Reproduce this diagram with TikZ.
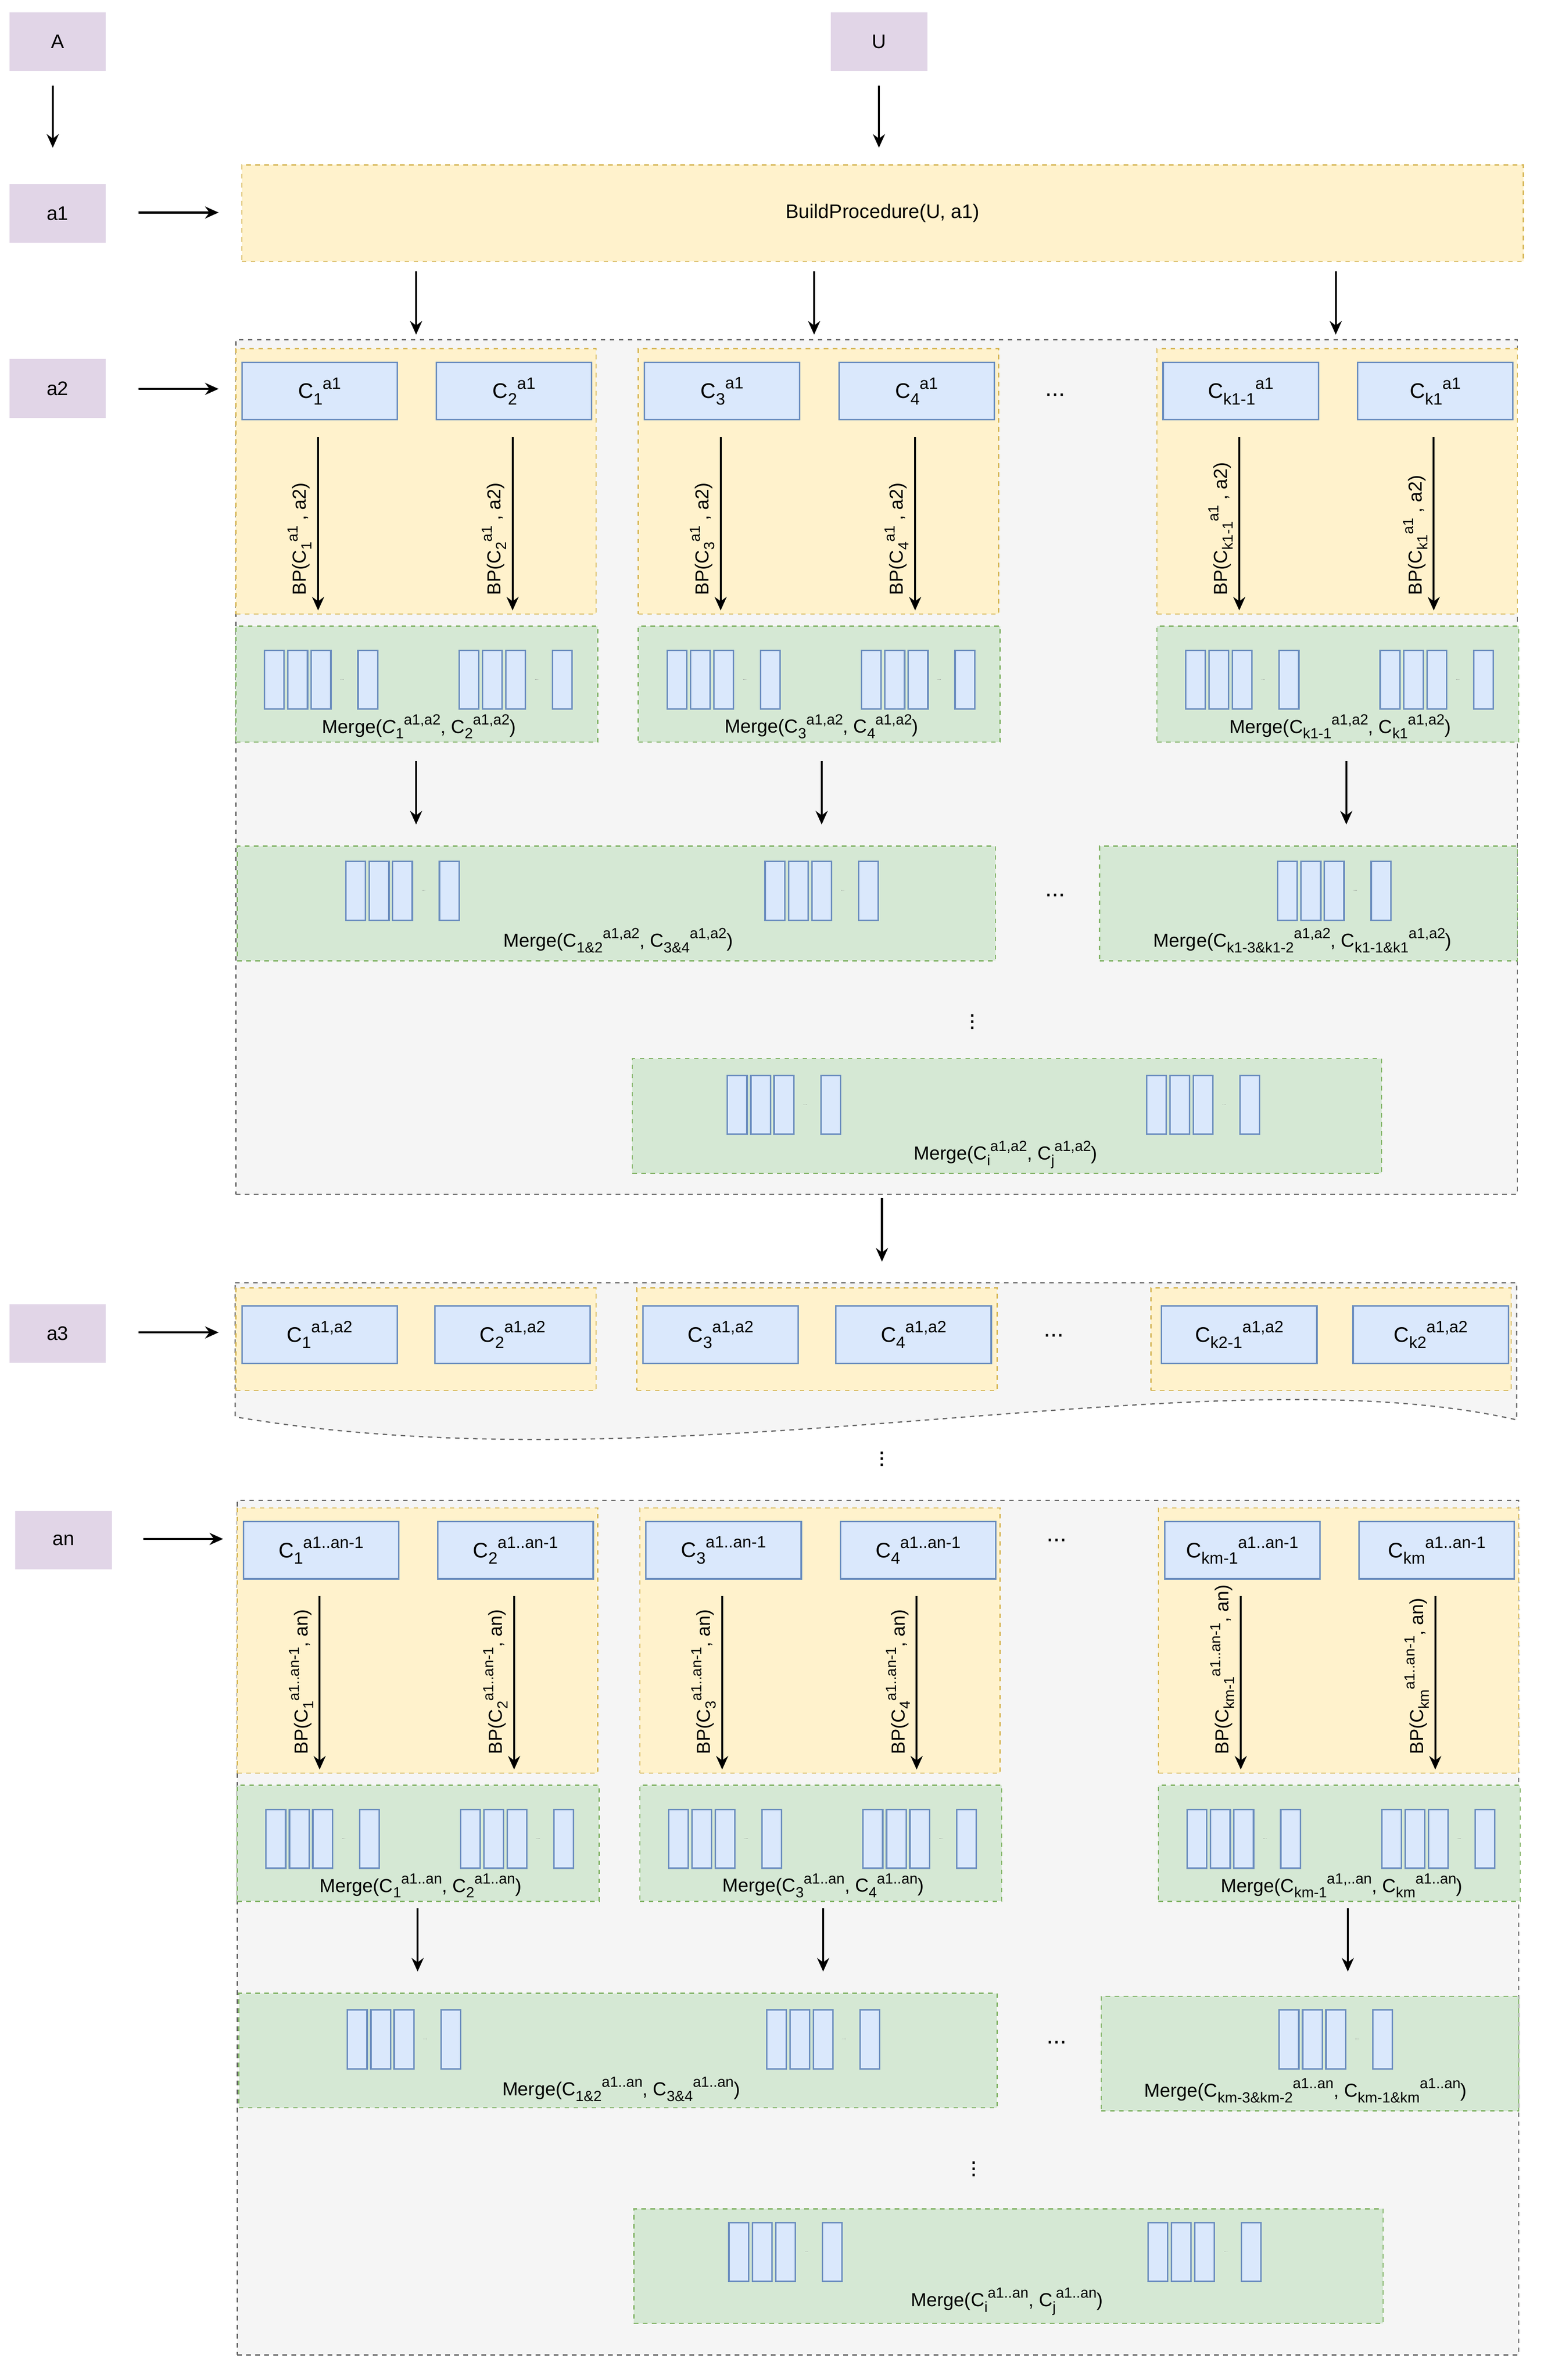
\documentclass[tikz,border=0pt]{standalone}
\usepackage{fontspec}
\usepackage{graphicx}
\setmainfont{Liberation Sans}
\usetikzlibrary{arrows.meta}
\definecolor{pfill}{HTML}{E1D5E7}
\definecolor{yfill}{HTML}{FFF2CC}\definecolor{ydraw}{HTML}{D6B656}
\definecolor{bfill}{HTML}{DAE8FC}\definecolor{bdraw}{HTML}{6C8EBF}
\definecolor{gfill}{HTML}{D5E8D4}\definecolor{gdraw}{HTML}{82B366}
\definecolor{kfill}{HTML}{F5F5F5}\definecolor{kdraw}{HTML}{666666}
\newcommand\fs[1]{\fontsize{#1}{#1}\selectfont}
\newcommand\Cs[2]{C\raisebox{-0.3em}{\scalebox{0.78}{#1}}\raisebox{0.45em}{\scalebox{0.78}{#2}}}
\tikzset{
 lab/.style={fill=pfill,draw=none,minimum width=64,minimum height=39,font=\fs{13},inner sep=0},
 ybox/.style={fill=yfill,draw=ydraw,dashed,line width=0.8,inner sep=0},
 gbox/.style={fill=gfill,draw=gdraw,dashed,line width=0.8,inner sep=0},
 kbox/.style={fill=kfill,draw=kdraw,dashed,line width=0.8,inner sep=0},
 cbox/.style={fill=bfill,draw=bdraw,line width=1,minimum width=103,minimum height=38,font=\fs{14},inner sep=0},
 sbox/.style={fill=bfill,draw=bdraw,line width=1,minimum width=13,minimum height=39,inner sep=0},
 arr/.style={-{Stealth[length=9,width=8]},line width=1.3},
 bp/.style={font=\fs{12.5},inner sep=0},
 mlab/.style={font=\fs{12.5},inner sep=0},
 dots/.style={font=\fs{16},inner sep=0},
}
\newcommand\rg[3]{%
 \foreach \i in {0,1,2}{\node[sbox,anchor=north west] (#3\i) at ({#1+15.5*\i},#2) {};}
 \node[sbox,anchor=north west] (#3d) at ({#1+62},#2) {};
 \node[font=\fs{3},text=gray,inner sep=0] (#3e) at ({#1+52},{#2+20}) {...};}
\newcommand\blk[8]{%
 \node[ybox,anchor=north west,minimum width=239,minimum height=176] (#8y) at (#1,#2) {};
 \node[cbox,anchor=north west] (#8c1) at ({#1+4},{#2+9}) {#3};
 \node[cbox,anchor=north west] (#8c2) at ({#1+133},{#2+9}) {#4};
 \coordinate (#8s1) at ({#1+55},{#2+59}); \coordinate (#8e1) at ({#1+55},{#2+174});
 \coordinate (#8s2) at ({#1+184},{#2+59}); \coordinate (#8e2) at ({#1+184},{#2+174});
 \draw[arr] (#8s1) -- (#8e1); \draw[arr] (#8s2) -- (#8e2);
 \node[bp,rotate=90,anchor=south west] (#8b1) at ({#1+51},{#2+164}) {#5};
 \node[bp,rotate=90,anchor=south west] (#8b2) at ({#1+180},{#2+164}) {#6};
 \node[gbox,anchor=north west,minimum width=240,minimum height=77] (#8g) at (#1,{#2+184}) {};
 \rg{#1+19}{#2+200}{#8ra}\rg{#1+148}{#2+200}{#8rb}
 \node[mlab] (#8m) at ({#1+122},{#2+251}) {#7};}
\begin{document}
\begin{tikzpicture}[x=1pt,y=-1pt]
\useasboundingbox (0,0) rectangle (1024,1579);
\node[lab,anchor=north west] (A) at (6,8) {A};
\node[lab,anchor=north west] (U) at (551,8) {U};
\node[lab,anchor=north west] (a1) at (6,122) {a1};
\node[lab,anchor=north west] (a2) at (6,238) {a2};
\node[lab,anchor=north west] (a3) at (6,865) {a3};
\node[lab,anchor=north west] (an) at (10,1002) {an};
\coordinate (A1) at (35,57); \coordinate (A2) at (35,98);
\coordinate (U1) at (583,57); \coordinate (U2) at (583,98);
\draw[arr] (A1) -- (A2); \draw[arr] (U1) -- (U2);
\node[ybox,anchor=north west,minimum width=850,minimum height=64,font=\fs{13}] (BP) at (160,109) {BuildProcedure(U, a1)};
\coordinate (p1) at (92,141); \coordinate (p2) at (145,141); \draw[arr] (p1) -- (p2);
\coordinate (p3) at (92,258); \coordinate (p4) at (145,258); \draw[arr] (p3) -- (p4);
\coordinate (p5) at (92,884); \coordinate (p6) at (145,884); \draw[arr] (p5) -- (p6);
\coordinate (p7) at (95,1021); \coordinate (p8) at (148,1021); \draw[arr] (p7) -- (p8);
\foreach \x [count=\k] in {276,540,886}{\coordinate (t\k) at (\x,180); \coordinate (u\k) at (\x,222); \draw[arr] (t\k) -- (u\k);}
% level a2
\node[kbox,anchor=north west,minimum width=850,minimum height=567] (K2) at (156,225) {};
\blk{156}{231}{\Cs{1}{a1}}{\Cs{2}{a1}}{BP(\Cs{1}{a1} , a2)}{BP(\Cs{2}{a1} , a2)}{Merge(\textit{C}\raisebox{-0.3em}{\scalebox{0.78}{1}}\raisebox{0.45em}{\scalebox{0.78}{a1,a2}}, \Cs{2}{a1,a2})}{b1}
\blk{423}{231}{\Cs{3}{a1}}{\Cs{4}{a1}}{BP(\Cs{3}{a1} , a2)}{BP(\Cs{4}{a1} , a2)}{Merge(\Cs{3}{a1,a2}, \Cs{4}{a1,a2})}{b2}
\blk{767}{231}{\Cs{k1-1}{a1}}{\Cs{k1}{a1}}{BP(\Cs{k1-1}{a1} , a2)}{BP(\Cs{k1}{a1} , a2)}{Merge(\Cs{k1-1}{a1,a2}, \Cs{k1}{a1,a2})}{b3}
\node[dots] (d1) at (700,262) {...};
\foreach \x [count=\k] in {276,545,893}{\coordinate (v\k) at (\x,505); \coordinate (w\k) at (\x,547); \draw[arr] (v\k) -- (w\k);}
\node[gbox,anchor=north west,minimum width=503,minimum height=76] (G1) at (157,561) {};
\rg{229}{571}{g1a}\rg{507}{571}{g1b}
\node[mlab] (G1m) at (410,624) {Merge(\Cs{1\&2}{a1,a2}, \Cs{3\&4}{a1,a2})};
\node[gbox,anchor=north west,minimum width=277,minimum height=76] (G2) at (729,561) {};
\rg{847}{571}{g2a}
\node[mlab] (G2m) at (864,624) {Merge(\Cs{k1-3\&k1-2}{a1,a2}, \Cs{k1-1\&k1}{a1,a2})};
\node[dots] (d2) at (700,594) {...};
\node[dots] (d3) at (645,675) {$\vdots$};
\node[gbox,anchor=north west,minimum width=497,minimum height=76] (G3) at (419,702) {};
\rg{482}{713}{g3a}\rg{760}{713}{g3b}
\node[mlab] (G3m) at (667,766) {Merge(\Cs{i}{a1,a2}, \Cs{j}{a1,a2})};
\coordinate (q1) at (585,795); \coordinate (q2) at (585,837); \draw[arr] (q1) -- (q2);
% level a3
\path[fill=kfill,draw=kdraw,dashed,line width=0.8] (156,851) -- (1006,851) -- (1006,942) .. controls (800,895) and (450,990) .. (156,940) -- cycle;
\foreach \x [count=\k] in {156,422,763}{\node[ybox,anchor=north west,minimum width=239,minimum height=68] (y3\k) at (\x,854) {};}
\node[cbox,anchor=north west] (e1) at (160,866) {\Cs{1}{a1,a2}};
\node[cbox,anchor=north west] (e2) at (288,866) {\Cs{2}{a1,a2}};
\node[cbox,anchor=north west] (e3) at (426,866) {\Cs{3}{a1,a2}};
\node[cbox,anchor=north west] (e4) at (554,866) {\Cs{4}{a1,a2}};
\node[cbox,anchor=north west] (e5) at (770,866) {\Cs{k2-1}{a1,a2}};
\node[cbox,anchor=north west] (e6) at (897,866) {\Cs{k2}{a1,a2}};
\node[dots] (d4) at (699,886) {...};
\node[dots] (d5) at (585,965) {$\vdots$};
% level an
\node[kbox,anchor=north west,minimum width=850,minimum height=567] (Kn) at (157,995) {};
\blk{157}{1000}{\Cs{1}{a1..an-1}}{\Cs{2}{a1..an-1}}{BP(\Cs{1}{a1..an-1}, an)}{BP(\Cs{2}{a1..an-1}, an)}{Merge(\Cs{1}{a1..an}, \Cs{2}{a1..an})}{n1}
\blk{424}{1000}{\Cs{3}{a1..an-1}}{\Cs{4}{a1..an-1}}{BP(\Cs{3}{a1..an-1}, an)}{BP(\Cs{4}{a1..an-1}, an)}{Merge(\Cs{3}{a1..an}, \Cs{4}{a1..an})}{n2}
\blk{768}{1000}{\Cs{km-1}{a1..an-1}}{\Cs{km}{a1..an-1}}{BP(\Cs{km-1}{a1..an-1}, an)}{BP(\Cs{km}{a1..an-1}, an)}{Merge(\Cs{km-1}{a1,..an}, \Cs{km}{a1..an})}{n3}
\node[dots] (d6) at (701,1022) {...};
\foreach \x [count=\k] in {277,546,894}{\coordinate (vn\k) at (\x,1266); \coordinate (wn\k) at (\x,1308); \draw[arr] (vn\k) -- (wn\k);}
\node[gbox,anchor=north west,minimum width=503,minimum height=76] (H1) at (158,1322) {};
\rg{230}{1333}{h1a}\rg{508}{1333}{h1b}
\node[mlab] (H1m) at (412,1386) {Merge(\Cs{1\&2}{a1..an}, \Cs{3\&4}{a1..an})};
\node[gbox,anchor=north west,minimum width=277,minimum height=76] (H2) at (730,1324) {};
\rg{848}{1333}{h2a}
\node[mlab] (H2m) at (866,1387) {Merge(\Cs{km-3\&km-2}{a1..an}, \Cs{km-1\&km}{a1..an})};
\node[dots] (d7) at (701,1355) {...};
\node[dots] (d8) at (646,1436) {$\vdots$};
\node[gbox,anchor=north west,minimum width=497,minimum height=76] (H3) at (420,1465) {};
\rg{483}{1474}{h3a}\rg{761}{1474}{h3b}
\node[mlab] (H3m) at (668,1527) {Merge(\Cs{i}{a1..an}, \Cs{j}{a1..an})};
\end{tikzpicture}
\end{document}
